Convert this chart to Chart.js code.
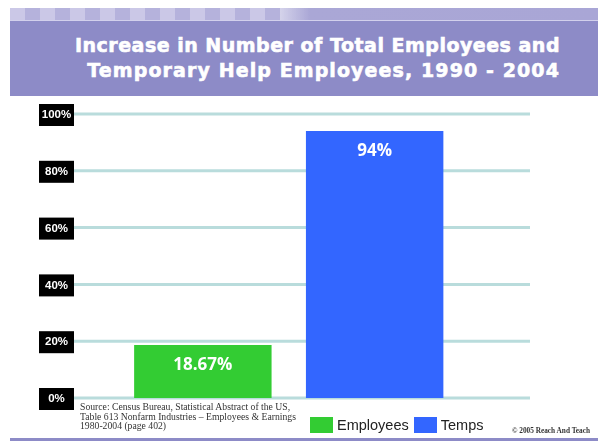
<!DOCTYPE html>
<html>
<head>
<meta charset="utf-8">
<script src="https://cdn.jsdelivr.net/npm/chart.js@4/dist/chart.umd.min.js"></script>
<style>
    body { margin: 0; background: #fff; }
    #wrap { position: relative; width: 598px; height: 441px; overflow: hidden; background: #fff; }
    #chart { position: absolute; left: 0; top: 0; }
    /* faixa quadriculada no topo */
    .strip { position: absolute; left: 10px; top: 8px; width: 588px; height: 12px;
        background: linear-gradient(90deg, rgba(170,167,214,0) 0, rgba(170,167,214,0) 240px, #aaa7d6 300px, #a9a6d6 100%); }
    .strip-checks { position: absolute; left: 10px; top: 8px; width: 270px; height: 12px;
        background: repeating-linear-gradient(90deg, #cbc8e7 0 15px, #b5b2dc 15px 30px); }
    .strip-line { position: absolute; left: 10px; top: 20px; width: 588px; height: 1px; background: #d2d0ec; }
    .header { position: absolute; left: 10px; top: 21px; width: 588px; height: 75px; background: #8d8bc7; }
    .title { position: absolute; right: 38px; top: 33px; text-align: right; color: #fff;
        font-family: "DejaVu Sans", sans-serif; font-weight: bold; font-size: 19px; line-height: 25px;
        white-space: nowrap; -webkit-text-stroke: 0.6px #fff; }
    .title .l1 { letter-spacing: 0.5px; }
    .title .l2 { letter-spacing: 1.1px; }
    .source { position: absolute; left: 80px; top: 402px; font-family: "Liberation Serif", serif;
        font-size: 9.7px; line-height: 9.5px; color: #333; white-space: nowrap; }
    .legend { position: absolute; left: 310px; top: 417px; font-family: "Liberation Sans", Arial, sans-serif;
        font-size: 14.5px; color: #222; display: flex; align-items: center; height: 16px; }
    .legend span.box { display: inline-block; width: 23px; height: 16px; margin-right: 4px; }
    .legend span.lbl { margin-right: 5px; }
    .copy { position: absolute; left: 512px; top: 426px; font-family: "Liberation Serif", serif;
        font-weight: bold; font-size: 7.3px; color: #333; white-space: nowrap; }
    .bottom-line { position: absolute; left: 10px; top: 438px; width: 588px; height: 3px; background: #8d8bc7; }
</style>
</head>
<body>
<div id="wrap">
    <canvas id="chart" width="598" height="441"></canvas>
    <div class="strip"></div>
    <div class="strip-checks"></div>
    <div class="strip-line"></div>
    <div class="header"></div>
    <div class="title"><span class="l1">Increase in Number of Total Employees and</span><br><span class="l2">Temporary Help Employees, 1990 - 2004</span></div>
    <div class="source">Source: Census Bureau, Statistical Abstract of the US,<br>Table 613 Nonfarm Industries – Employees &amp; Earnings<br>1980-2004 (page 402)</div>
    <div class="legend" id="legend"></div>
    <div class="copy">© 2005 Reach And Teach</div>
    <div class="bottom-line"></div>
</div>
<script>
// Dados do gráfico
const seriesNames = ['Employees', 'Temps'];
const seriesValues = [18.67, 94];
const seriesColors = ['#33cc33', '#3366ff'];
const valueLabels = ['18.67%', '94%'];
const yTicks = [0, 20, 40, 60, 80, 100];

const GRID_RIGHT = 530;

// Caixas pretas com os rótulos do eixo Y e linhas de grade
const axisPlugin = {
    id: 'axisBoxes',
    beforeDatasetsDraw(chart) {
        const ctx = chart.ctx;
        const y = chart.scales.y;
        const left = chart.chartArea.left;
        ctx.save();
        yTicks.forEach(t => {
            const py = y.getPixelForValue(t);
            ctx.strokeStyle = '#b9dcdc';
            ctx.lineWidth = 3;
            ctx.beginPath();
            ctx.moveTo(left, py);
            ctx.lineTo(GRID_RIGHT, py);
            ctx.stroke();

            ctx.fillStyle = '#000';
            ctx.fillRect(left - 35, py - 10, 35, 22);
            ctx.fillStyle = '#fff';
            ctx.font = 'bold 11.5px "Liberation Sans", Arial, sans-serif';
            ctx.textAlign = 'center';
            ctx.textBaseline = 'middle';
            ctx.fillText(t + '%', left - 17.5, py + 1);
        });
        ctx.restore();
    }
};

// Valor escrito dentro de cada barra
const valuePlugin = {
    id: 'barValues',
    afterDatasetsDraw(chart) {
        const ctx = chart.ctx;
        ctx.save();
        ctx.fillStyle = '#fff';
        ctx.font = 'bold 17px "Open Sans", sans-serif';
        ctx.textAlign = 'center';
        ctx.textBaseline = 'middle';
        chart.data.datasets.forEach((ds, i) => {
            const bar = chart.getDatasetMeta(i).data[0];
            ctx.fillText(valueLabels[i], bar.x, bar.y + 20);
        });
        ctx.restore();
    }
};

const chart = new Chart(document.getElementById('chart'), {
    type: 'bar',
    data: {
        labels: [''],
        datasets: seriesNames.map((name, i) => ({
            label: name,
            data: [seriesValues[i]],
            backgroundColor: seriesColors[i],
            borderWidth: 0,
            categoryPercentage: 0.8,
            barPercentage: 0.8
        }))
    },
    options: {
        responsive: false,
        animation: false,
        layout: { padding: { left: 74, right: 94.5, top: 114, bottom: 43 } },
        plugins: { legend: { display: false }, tooltip: { enabled: false } },
        scales: {
            x: { display: false },
            y: { display: false, min: 0, max: 100 }
        }
    },
    plugins: [axisPlugin, valuePlugin]
});

// Legenda montada a partir dos datasets
const legend = document.getElementById('legend');
chart.data.datasets.forEach(ds => {
    legend.innerHTML += `<span class="box" style="background:${ds.backgroundColor}"></span><span class="lbl">${ds.label}</span>`;
});
</script>
</body>
</html>
